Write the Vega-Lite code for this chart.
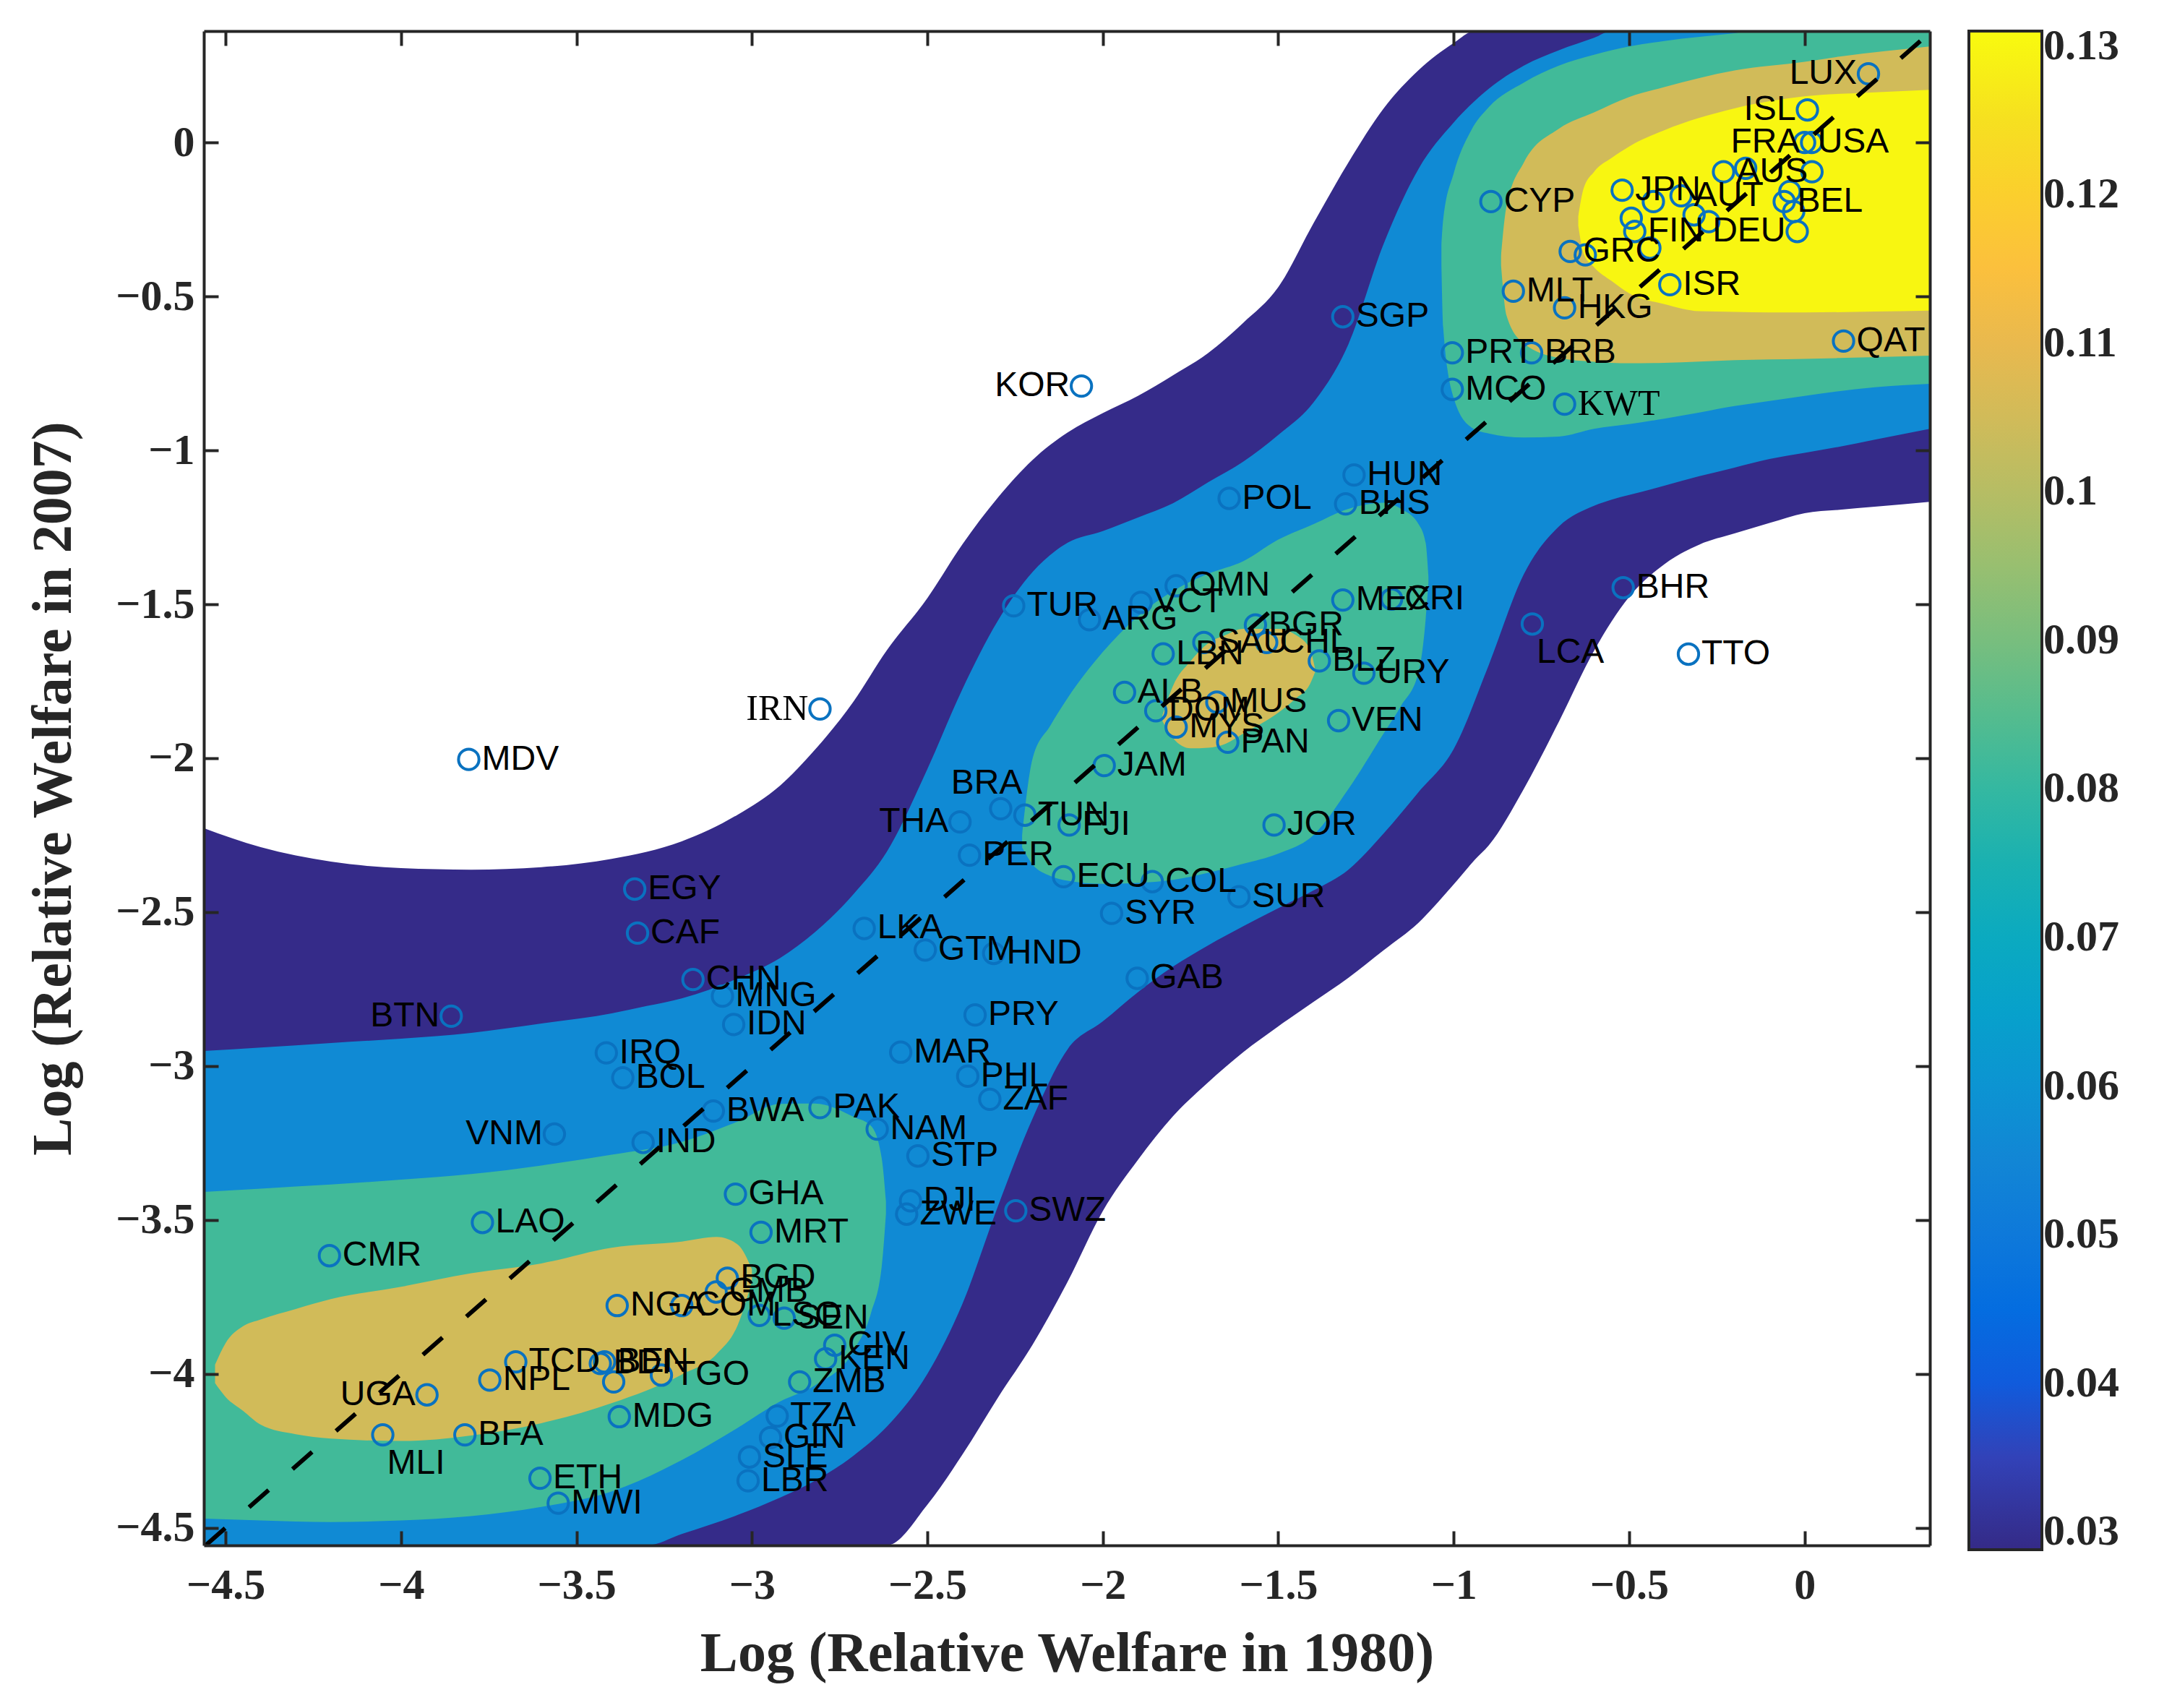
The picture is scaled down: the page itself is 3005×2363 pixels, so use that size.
{
  "$schema": "https://vega.github.io/schema/vega-lite/v6.json",
  "autosize": {"type": "none"},
  "padding": {"left": 282, "top": 43, "right": 335, "bottom": 225},
  "width": 2388,
  "height": 2095,
  "background": "white",
  "config": {
    "view": {"stroke": null},
    "legend": {
      "orient": "right", "offset": 52, "gradientLength": 2101, "gradientThickness": 101,
      "labelFont": "Liberation Serif", "labelFontSize": 60, "labelFontWeight": "bold", "labelColor": "#262626",
      "labelOffset": 26, "gradientStrokeColor": "#262626", "gradientStrokeWidth": 4, "labelOverlap": false, "padding": 0
    }
  },
  "datasets": {
    "diag": [{"x": -4.557, "y": -4.557}, {"x": 0.357, "y": 0.357}],
    "contours": [
      {"region": "P", "level": 0.029, "x": -4.562, "y": -4.557, "y2": -2.227},
      {"region": "P", "level": 0.029, "x": -4.4, "y": -4.557, "y2": -2.289},
      {"region": "P", "level": 0.029, "x": -4.2, "y": -4.557, "y2": -2.336},
      {"region": "P", "level": 0.029, "x": -4.0, "y": -4.557, "y2": -2.357},
      {"region": "P", "level": 0.029, "x": -3.8, "y": -4.557, "y2": -2.362},
      {"region": "P", "level": 0.029, "x": -3.6, "y": -4.557, "y2": -2.354},
      {"region": "P", "level": 0.029, "x": -3.4, "y": -4.557, "y2": -2.327},
      {"region": "P", "level": 0.029, "x": -3.2, "y": -4.557, "y2": -2.27},
      {"region": "P", "level": 0.029, "x": -3.04, "y": -4.557, "y2": -2.183},
      {"region": "P", "level": 0.029, "x": -2.92, "y": -4.557, "y2": -2.089},
      {"region": "P", "level": 0.029, "x": -2.82, "y": -4.557, "y2": -1.972},
      {"region": "P", "level": 0.029, "x": -2.71, "y": -4.557, "y2": -1.815},
      {"region": "P", "level": 0.029, "x": -2.616, "y": -4.557, "y2": -1.65},
      {"region": "P", "level": 0.029, "x": -2.5, "y": -4.425, "y2": -1.48},
      {"region": "P", "level": 0.029, "x": -2.4, "y": -4.262, "y2": -1.305},
      {"region": "P", "level": 0.029, "x": -2.3, "y": -4.079, "y2": -1.155},
      {"region": "P", "level": 0.029, "x": -2.2, "y": -3.905, "y2": -1.031},
      {"region": "P", "level": 0.029, "x": -2.1, "y": -3.7, "y2": -0.942},
      {"region": "P", "level": 0.029, "x": -2.0, "y": -3.471, "y2": -0.879},
      {"region": "P", "level": 0.029, "x": -1.9, "y": -3.305, "y2": -0.823},
      {"region": "P", "level": 0.029, "x": -1.8, "y": -3.163, "y2": -0.756},
      {"region": "P", "level": 0.029, "x": -1.7, "y": -3.053, "y2": -0.684},
      {"region": "P", "level": 0.029, "x": -1.6, "y": -2.955, "y2": -0.586},
      {"region": "P", "level": 0.029, "x": -1.5, "y": -2.871, "y2": -0.47},
      {"region": "P", "level": 0.029, "x": -1.4, "y": -2.792, "y2": -0.263},
      {"region": "P", "level": 0.029, "x": -1.3, "y": -2.713, "y2": -0.065},
      {"region": "P", "level": 0.029, "x": -1.2, "y": -2.624, "y2": 0.11},
      {"region": "P", "level": 0.029, "x": -1.1, "y": -2.534, "y2": 0.235},
      {"region": "P", "level": 0.029, "x": -1.0, "y": -2.41, "y2": 0.323},
      {"region": "P", "level": 0.029, "x": -0.94, "y": -2.33, "y2": 0.362},
      {"region": "P", "level": 0.029, "x": -0.9, "y": -2.283, "y2": 0.362},
      {"region": "P", "level": 0.029, "x": -0.8, "y": -2.099, "y2": 0.362},
      {"region": "P", "level": 0.029, "x": -0.7, "y": -1.881, "y2": 0.362},
      {"region": "P", "level": 0.029, "x": -0.6, "y": -1.651, "y2": 0.362},
      {"region": "P", "level": 0.029, "x": -0.5, "y": -1.476, "y2": 0.362},
      {"region": "P", "level": 0.029, "x": -0.4, "y": -1.37, "y2": 0.362},
      {"region": "P", "level": 0.029, "x": -0.3, "y": -1.306, "y2": 0.362},
      {"region": "P", "level": 0.029, "x": -0.2, "y": -1.27, "y2": 0.362},
      {"region": "P", "level": 0.029, "x": -0.1, "y": -1.236, "y2": 0.362},
      {"region": "P", "level": 0.029, "x": 0.0, "y": -1.204, "y2": 0.362},
      {"region": "P", "level": 0.029, "x": 0.1, "y": -1.193, "y2": 0.362},
      {"region": "P", "level": 0.029, "x": 0.2, "y": -1.183, "y2": 0.362},
      {"region": "P", "level": 0.029, "x": 0.357, "y": -1.167, "y2": 0.362},

      {"region": "B", "level": 0.0565, "x": -4.562, "y": -4.557, "y2": -2.951},
      {"region": "B", "level": 0.0565, "x": -4.4, "y": -4.557, "y2": -2.94},
      {"region": "B", "level": 0.0565, "x": -4.2, "y": -4.557, "y2": -2.925},
      {"region": "B", "level": 0.0565, "x": -4.0, "y": -4.557, "y2": -2.911},
      {"region": "B", "level": 0.0565, "x": -3.8, "y": -4.557, "y2": -2.892},
      {"region": "B", "level": 0.0565, "x": -3.6, "y": -4.557, "y2": -2.862},
      {"region": "B", "level": 0.0565, "x": -3.4, "y": -4.557, "y2": -2.829},
      {"region": "B", "level": 0.0565, "x": -3.3, "y": -4.557, "y2": -2.805},
      {"region": "B", "level": 0.0565, "x": -3.2, "y": -4.52, "y2": -2.78},
      {"region": "B", "level": 0.0565, "x": -3.04, "y": -4.458, "y2": -2.715},
      {"region": "B", "level": 0.0565, "x": -2.92, "y": -4.402, "y2": -2.649},
      {"region": "B", "level": 0.0565, "x": -2.82, "y": -4.347, "y2": -2.565},
      {"region": "B", "level": 0.0565, "x": -2.71, "y": -4.265, "y2": -2.441},
      {"region": "B", "level": 0.0565, "x": -2.616, "y": -4.172, "y2": -2.305},
      {"region": "B", "level": 0.0565, "x": -2.5, "y": -4.0, "y2": -2.035},
      {"region": "B", "level": 0.0565, "x": -2.4, "y": -3.772, "y2": -1.775},
      {"region": "B", "level": 0.0565, "x": -2.3, "y": -3.459, "y2": -1.555},
      {"region": "B", "level": 0.0565, "x": -2.2, "y": -3.17, "y2": -1.395},
      {"region": "B", "level": 0.0565, "x": -2.1, "y": -2.945, "y2": -1.3},
      {"region": "B", "level": 0.0565, "x": -2.0, "y": -2.855, "y2": -1.262},
      {"region": "B", "level": 0.0565, "x": -1.9, "y": -2.76, "y2": -1.218},
      {"region": "B", "level": 0.0565, "x": -1.8, "y": -2.677, "y2": -1.172},
      {"region": "B", "level": 0.0565, "x": -1.7, "y": -2.608, "y2": -1.104},
      {"region": "B", "level": 0.0565, "x": -1.6, "y": -2.546, "y2": -1.037},
      {"region": "B", "level": 0.0565, "x": -1.5, "y": -2.487, "y2": -0.95},
      {"region": "B", "level": 0.0565, "x": -1.4, "y": -2.43, "y2": -0.845},
      {"region": "B", "level": 0.0565, "x": -1.3, "y": -2.362, "y2": -0.655},
      {"region": "B", "level": 0.0565, "x": -1.2, "y": -2.245, "y2": -0.33},
      {"region": "B", "level": 0.0565, "x": -1.1, "y": -2.11, "y2": -0.085},
      {"region": "B", "level": 0.0565, "x": -1.0, "y": -1.97, "y2": 0.065},
      {"region": "B", "level": 0.0565, "x": -0.9, "y": -1.697, "y2": 0.175},
      {"region": "B", "level": 0.0565, "x": -0.8, "y": -1.402, "y2": 0.25},
      {"region": "B", "level": 0.0565, "x": -0.7, "y": -1.247, "y2": 0.3},
      {"region": "B", "level": 0.0565, "x": -0.6, "y": -1.18, "y2": 0.34},
      {"region": "B", "level": 0.0565, "x": -0.55, "y": -1.16, "y2": 0.362},
      {"region": "B", "level": 0.0565, "x": -0.5, "y": -1.145, "y2": 0.362},
      {"region": "B", "level": 0.0565, "x": -0.4, "y": -1.115, "y2": 0.362},
      {"region": "B", "level": 0.0565, "x": -0.3, "y": -1.084, "y2": 0.362},
      {"region": "B", "level": 0.0565, "x": -0.2, "y": -1.056, "y2": 0.362},
      {"region": "B", "level": 0.0565, "x": -0.1, "y": -1.028, "y2": 0.362},
      {"region": "B", "level": 0.0565, "x": 0.0, "y": -1.008, "y2": 0.362},
      {"region": "B", "level": 0.0565, "x": 0.1, "y": -0.988, "y2": 0.362},
      {"region": "B", "level": 0.0565, "x": 0.2, "y": -0.965, "y2": 0.362},
      {"region": "B", "level": 0.0565, "x": 0.357, "y": -0.93, "y2": 0.362},

      {"region": "G1", "level": 0.082, "x": -4.562, "y": -4.47, "y2": -3.409},
      {"region": "G1", "level": 0.082, "x": -4.4, "y": -4.476, "y2": -3.398},
      {"region": "G1", "level": 0.082, "x": -4.2, "y": -4.481, "y2": -3.385},
      {"region": "G1", "level": 0.082, "x": -4.0, "y": -4.476, "y2": -3.369},
      {"region": "G1", "level": 0.082, "x": -3.8, "y": -4.462, "y2": -3.351},
      {"region": "G1", "level": 0.082, "x": -3.6, "y": -4.432, "y2": -3.323},
      {"region": "G1", "level": 0.082, "x": -3.4, "y": -4.382, "y2": -3.288},
      {"region": "G1", "level": 0.082, "x": -3.2, "y": -4.28, "y2": -3.246},
      {"region": "G1", "level": 0.082, "x": -3.04, "y": -4.175, "y2": -3.18},
      {"region": "G1", "level": 0.082, "x": -2.92, "y": -4.09, "y2": -3.123},
      {"region": "G1", "level": 0.082, "x": -2.82, "y": -4.037, "y2": -3.122},
      {"region": "G1", "level": 0.082, "x": -2.71, "y": -3.925, "y2": -3.165},
      {"region": "G1", "level": 0.082, "x": -2.66, "y": -3.8, "y2": -3.195},
      {"region": "G1", "level": 0.082, "x": -2.63, "y": -3.65, "y2": -3.3},
      {"region": "G1", "level": 0.082, "x": -2.618, "y": -3.48, "y2": -3.44},

      {"region": "G2", "level": 0.082, "x": -2.23, "y": -2.29, "y2": -2.25},
      {"region": "G2", "level": 0.082, "x": -2.2, "y": -2.345, "y2": -2.0},
      {"region": "G2", "level": 0.082, "x": -2.15, "y": -2.382, "y2": -1.895},
      {"region": "G2", "level": 0.082, "x": -2.1, "y": -2.398, "y2": -1.804},
      {"region": "G2", "level": 0.082, "x": -2.0, "y": -2.408, "y2": -1.655},
      {"region": "G2", "level": 0.082, "x": -1.9, "y": -2.405, "y2": -1.539},
      {"region": "G2", "level": 0.082, "x": -1.8, "y": -2.395, "y2": -1.457},
      {"region": "G2", "level": 0.082, "x": -1.7, "y": -2.372, "y2": -1.401},
      {"region": "G2", "level": 0.082, "x": -1.6, "y": -2.343, "y2": -1.36},
      {"region": "G2", "level": 0.082, "x": -1.5, "y": -2.31, "y2": -1.29},
      {"region": "G2", "level": 0.082, "x": -1.4, "y": -2.25, "y2": -1.24},
      {"region": "G2", "level": 0.082, "x": -1.3, "y": -2.1, "y2": -1.19},
      {"region": "G2", "level": 0.082, "x": -1.2, "y": -1.92, "y2": -1.17},
      {"region": "G2", "level": 0.082, "x": -1.15, "y": -1.83, "y2": -1.19},
      {"region": "G2", "level": 0.082, "x": -1.1, "y": -1.72, "y2": -1.24},
      {"region": "G2", "level": 0.082, "x": -1.08, "y": -1.55, "y2": -1.3},
      {"region": "G2", "level": 0.082, "x": -1.072, "y": -1.43, "y2": -1.41},

      {"region": "G3", "level": 0.082, "x": -1.035, "y": -0.4, "y2": -0.33},
      {"region": "G3", "level": 0.082, "x": -1.03, "y": -0.6, "y2": -0.25},
      {"region": "G3", "level": 0.082, "x": -1.0, "y": -0.83, "y2": -0.1},
      {"region": "G3", "level": 0.082, "x": -0.95, "y": -0.925, "y2": 0.04},
      {"region": "G3", "level": 0.082, "x": -0.9, "y": -0.945, "y2": 0.115},
      {"region": "G3", "level": 0.082, "x": -0.8, "y": -0.958, "y2": 0.195},
      {"region": "G3", "level": 0.082, "x": -0.7, "y": -0.955, "y2": 0.25},
      {"region": "G3", "level": 0.082, "x": -0.6, "y": -0.93, "y2": 0.285},
      {"region": "G3", "level": 0.082, "x": -0.5, "y": -0.915, "y2": 0.312},
      {"region": "G3", "level": 0.082, "x": -0.4, "y": -0.897, "y2": 0.33},
      {"region": "G3", "level": 0.082, "x": -0.3, "y": -0.877, "y2": 0.343},
      {"region": "G3", "level": 0.082, "x": -0.2, "y": -0.856, "y2": 0.355},
      {"region": "G3", "level": 0.082, "x": -0.15, "y": -0.848, "y2": 0.362},
      {"region": "G3", "level": 0.082, "x": 0.0, "y": -0.823, "y2": 0.362},
      {"region": "G3", "level": 0.082, "x": 0.2, "y": -0.795, "y2": 0.362},
      {"region": "G3", "level": 0.082, "x": 0.357, "y": -0.784, "y2": 0.362},

      {"region": "T1", "level": 0.105, "x": -4.53, "y": -4.03, "y2": -3.97},
      {"region": "T1", "level": 0.105, "x": -4.5, "y": -4.075, "y2": -3.9},
      {"region": "T1", "level": 0.105, "x": -4.45, "y": -4.12, "y2": -3.845},
      {"region": "T1", "level": 0.105, "x": -4.4, "y": -4.165, "y2": -3.823},
      {"region": "T1", "level": 0.105, "x": -4.3, "y": -4.196, "y2": -3.789},
      {"region": "T1", "level": 0.105, "x": -4.2, "y": -4.21, "y2": -3.757},
      {"region": "T1", "level": 0.105, "x": -4.0, "y": -4.218, "y2": -3.717},
      {"region": "T1", "level": 0.105, "x": -3.8, "y": -4.2, "y2": -3.673},
      {"region": "T1", "level": 0.105, "x": -3.6, "y": -4.16, "y2": -3.641},
      {"region": "T1", "level": 0.105, "x": -3.4, "y": -4.095, "y2": -3.59},
      {"region": "T1", "level": 0.105, "x": -3.2, "y": -4.002, "y2": -3.57},
      {"region": "T1", "level": 0.105, "x": -3.1, "y": -3.935, "y2": -3.555},
      {"region": "T1", "level": 0.105, "x": -3.04, "y": -3.84, "y2": -3.58},
      {"region": "T1", "level": 0.105, "x": -3.0, "y": -3.7, "y2": -3.66},

      {"region": "T2", "level": 0.105, "x": -1.83, "y": -1.88, "y2": -1.86},
      {"region": "T2", "level": 0.105, "x": -1.8, "y": -1.935, "y2": -1.765},
      {"region": "T2", "level": 0.105, "x": -1.75, "y": -1.968, "y2": -1.685},
      {"region": "T2", "level": 0.105, "x": -1.7, "y": -1.966, "y2": -1.627},
      {"region": "T2", "level": 0.105, "x": -1.65, "y": -1.953, "y2": -1.6},
      {"region": "T2", "level": 0.105, "x": -1.6, "y": -1.92, "y2": -1.58},
      {"region": "T2", "level": 0.105, "x": -1.5, "y": -1.852, "y2": -1.58},
      {"region": "T2", "level": 0.105, "x": -1.45, "y": -1.806, "y2": -1.6},
      {"region": "T2", "level": 0.105, "x": -1.41, "y": -1.76, "y2": -1.645},
      {"region": "T2", "level": 0.105, "x": -1.395, "y": -1.72, "y2": -1.71},

      {"region": "T3", "level": 0.105, "x": -0.865, "y": -0.4, "y2": -0.37},
      {"region": "T3", "level": 0.105, "x": -0.85, "y": -0.56, "y2": -0.21},
      {"region": "T3", "level": 0.105, "x": -0.8, "y": -0.653, "y2": -0.065},
      {"region": "T3", "level": 0.105, "x": -0.7, "y": -0.7, "y2": 0.045},
      {"region": "T3", "level": 0.105, "x": -0.6, "y": -0.712, "y2": 0.098},
      {"region": "T3", "level": 0.105, "x": -0.5, "y": -0.717, "y2": 0.148},
      {"region": "T3", "level": 0.105, "x": -0.4, "y": -0.716, "y2": 0.18},
      {"region": "T3", "level": 0.105, "x": -0.2, "y": -0.707, "y2": 0.234},
      {"region": "T3", "level": 0.105, "x": 0.0, "y": -0.703, "y2": 0.262},
      {"region": "T3", "level": 0.105, "x": 0.1, "y": -0.7, "y2": 0.279},
      {"region": "T3", "level": 0.105, "x": 0.357, "y": -0.692, "y2": 0.312},

      {"region": "Y", "level": 0.13, "x": -0.645, "y": -0.27, "y2": -0.24},
      {"region": "Y", "level": 0.13, "x": -0.63, "y": -0.36, "y2": -0.15},
      {"region": "Y", "level": 0.13, "x": -0.6, "y": -0.405, "y2": -0.095},
      {"region": "Y", "level": 0.13, "x": -0.55, "y": -0.45, "y2": -0.05},
      {"region": "Y", "level": 0.13, "x": -0.5, "y": -0.49, "y2": -0.013},
      {"region": "Y", "level": 0.13, "x": -0.4, "y": -0.525, "y2": 0.04},
      {"region": "Y", "level": 0.13, "x": -0.3, "y": -0.548, "y2": 0.08},
      {"region": "Y", "level": 0.13, "x": -0.2, "y": -0.55, "y2": 0.111},
      {"region": "Y", "level": 0.13, "x": -0.1, "y": -0.552, "y2": 0.134},
      {"region": "Y", "level": 0.13, "x": 0.0, "y": -0.552, "y2": 0.15},
      {"region": "Y", "level": 0.13, "x": 0.2, "y": -0.549, "y2": 0.163},
      {"region": "Y", "level": 0.13, "x": 0.357, "y": -0.546, "y2": 0.171}
    ],
    "countries": [
      {"code": "LUX", "x": 0.182, "y": 0.223},
      {"code": "ISL", "x": 0.008, "y": 0.106},
      {"code": "USA", "x": 0.0, "y": 0.0},
      {"code": "FRA", "x": 0.02, "y": 0.0},
      {"code": "AUS", "x": -0.231, "y": -0.095},
      {"code": "JPN", "x": -0.52, "y": -0.155},
      {"code": "AUT", "x": -0.352, "y": -0.173},
      {"code": "BEL", "x": -0.058, "y": -0.192},
      {"code": "FIN", "x": -0.484, "y": -0.289},
      {"code": "DEU", "x": -0.021, "y": -0.289},
      {"code": "GRC", "x": -0.668, "y": -0.354},
      {"code": "ISR", "x": -0.384, "y": -0.462},
      {"code": "MLT", "x": -0.83, "y": -0.483},
      {"code": "HKG", "x": -0.684, "y": -0.537},
      {"code": "CYP", "x": -0.894, "y": -0.192},
      {"code": "SGP", "x": -1.316, "y": -0.566},
      {"code": "PRT", "x": -1.004, "y": -0.683},
      {"code": "BRB", "x": -0.778, "y": -0.683},
      {"code": "MCO", "x": -1.004, "y": -0.802},
      {"code": "KWT", "x": -0.684, "y": -0.85},
      {"code": "QAT", "x": 0.111, "y": -0.645},
      {"code": "HUN", "x": -1.284, "y": -1.08},
      {"code": "BHS", "x": -1.308, "y": -1.174},
      {"code": "POL", "x": -1.64, "y": -1.156},
      {"code": "KOR", "x": -2.061, "y": -0.791},
      {"code": "BHR", "x": -0.517, "y": -1.446},
      {"code": "LCA", "x": -0.776, "y": -1.564},
      {"code": "TTO", "x": -0.331, "y": -1.662},
      {"code": "MEX", "x": -1.316, "y": -1.486},
      {"code": "CRI", "x": -1.177, "y": -1.483},
      {"code": "BLZ", "x": -1.383, "y": -1.684},
      {"code": "URY", "x": -1.256, "y": -1.724},
      {"code": "VEN", "x": -1.328, "y": -1.878},
      {"code": "IRN", "x": -2.806, "y": -1.84},
      {"code": "TUR", "x": -2.254, "y": -1.505},
      {"code": "ARG", "x": -2.038, "y": -1.55},
      {"code": "VCT", "x": -1.891, "y": -1.494},
      {"code": "OMN", "x": -1.791, "y": -1.44},
      {"code": "BGR", "x": -1.565, "y": -1.567},
      {"code": "LBN", "x": -1.828, "y": -1.661},
      {"code": "SAU", "x": -1.712, "y": -1.624},
      {"code": "CHL", "x": -1.533, "y": -1.624},
      {"code": "ALB", "x": -1.938, "y": -1.786},
      {"code": "DOM", "x": -1.849, "y": -1.846},
      {"code": "MUS", "x": -1.675, "y": -1.818},
      {"code": "MYS", "x": -1.791, "y": -1.899},
      {"code": "PAN", "x": -1.644, "y": -1.948},
      {"code": "JAM", "x": -1.996, "y": -2.024},
      {"code": "BRA", "x": -2.291, "y": -2.164},
      {"code": "THA", "x": -2.407, "y": -2.207},
      {"code": "TUN", "x": -2.222, "y": -2.185},
      {"code": "FJI", "x": -2.096, "y": -2.217},
      {"code": "PER", "x": -2.38, "y": -2.315},
      {"code": "ECU", "x": -2.112, "y": -2.385},
      {"code": "COL", "x": -1.859, "y": -2.401},
      {"code": "SUR", "x": -1.612, "y": -2.45},
      {"code": "SYR", "x": -1.975, "y": -2.504},
      {"code": "JOR", "x": -1.512, "y": -2.217},
      {"code": "LKA", "x": -2.68, "y": -2.553},
      {"code": "GTM", "x": -2.506, "y": -2.623},
      {"code": "HND", "x": -2.311, "y": -2.634},
      {"code": "GAB", "x": -1.902, "y": -2.715},
      {"code": "PRY", "x": -2.364, "y": -2.834},
      {"code": "MAR", "x": -2.576, "y": -2.955},
      {"code": "PHL", "x": -2.385, "y": -3.033},
      {"code": "ZAF", "x": -2.322, "y": -3.108},
      {"code": "PAK", "x": -2.806, "y": -3.135},
      {"code": "NAM", "x": -2.643, "y": -3.205},
      {"code": "STP", "x": -2.527, "y": -3.292},
      {"code": "DJI", "x": -2.548, "y": -3.438},
      {"code": "ZWE", "x": -2.559, "y": -3.481},
      {"code": "SWZ", "x": -2.248, "y": -3.47},
      {"code": "MDV", "x": -3.807, "y": -2.004},
      {"code": "EGY", "x": -3.334, "y": -2.425},
      {"code": "CAF", "x": -3.326, "y": -2.568},
      {"code": "CHN", "x": -3.168, "y": -2.719},
      {"code": "MNG", "x": -3.084, "y": -2.773},
      {"code": "IDN", "x": -3.052, "y": -2.865},
      {"code": "BTN", "x": -3.857, "y": -2.838},
      {"code": "IRQ", "x": -3.415, "y": -2.957},
      {"code": "BOL", "x": -3.368, "y": -3.038},
      {"code": "BWA", "x": -3.11, "y": -3.146},
      {"code": "VNM", "x": -3.563, "y": -3.221},
      {"code": "IND", "x": -3.31, "y": -3.248},
      {"code": "GHA", "x": -3.047, "y": -3.416},
      {"code": "LAO", "x": -3.768, "y": -3.508},
      {"code": "MRT", "x": -2.974, "y": -3.54},
      {"code": "CMR", "x": -4.204, "y": -3.616},
      {"code": "BGD", "x": -3.07, "y": -3.689},
      {"code": "GMB", "x": -3.102, "y": -3.734},
      {"code": "NGA", "x": -3.384, "y": -3.778},
      {"code": "COM", "x": -3.2, "y": -3.778},
      {"code": "LSO", "x": -2.979, "y": -3.81},
      {"code": "SEN", "x": -2.908, "y": -3.819},
      {"code": "CIV", "x": -2.764, "y": -3.907},
      {"code": "KEN", "x": -2.79, "y": -3.951},
      {"code": "TCD", "x": -3.673, "y": -3.961},
      {"code": "NPL", "x": -3.747, "y": -4.02},
      {"code": "BEN", "x": -3.42, "y": -3.961},
      {"code": "BDI", "x": -3.432, "y": -3.966},
      {"code": "TGO", "x": -3.258, "y": -4.004},
      {"code": "NER", "x": -3.394, "y": -4.026},
      {"code": "ZMB", "x": -2.864, "y": -4.026},
      {"code": "UGA", "x": -3.926, "y": -4.068},
      {"code": "MLI", "x": -4.052, "y": -4.198},
      {"code": "BFA", "x": -3.818, "y": -4.198},
      {"code": "MDG", "x": -3.378, "y": -4.139},
      {"code": "TZA", "x": -2.928, "y": -4.137},
      {"code": "GIN", "x": -2.947, "y": -4.207},
      {"code": "SLE", "x": -3.007, "y": -4.27},
      {"code": "LBR", "x": -3.011, "y": -4.347},
      {"code": "ETH", "x": -3.604, "y": -4.339},
      {"code": "MWI", "x": -3.552, "y": -4.42},
      {"code": "CAN", "x": -0.168, "y": -0.084},
      {"code": "NLD", "x": 0.021, "y": -0.095},
      {"code": "SWE", "x": -0.042, "y": -0.159},
      {"code": "DNK", "x": -0.031, "y": -0.224},
      {"code": "GBR", "x": -0.431, "y": -0.192},
      {"code": "ESP", "x": -0.494, "y": -0.246},
      {"code": "ITA", "x": -0.315, "y": -0.235},
      {"code": "NOR", "x": -0.273, "y": -0.257},
      {"code": "IRL", "x": -0.625, "y": -0.365},
      {"code": "NZL", "x": -0.441, "y": -0.343}
    ]
  },
  "resolve": {"axis": {"x": "independent", "y": "independent"}},
  "layer": [
    {
      "data": {"name": "contours"},
      "transform": [{"filter": {"field": "region", "oneOf": ["P"]}}],
      "mark": {"type": "area", "interpolate": "monotone", "clip": true, "opacity": 1},
      "encoding": {
        "x": {"field": "x", "type": "quantitative", "scale": {"domain": [-4.562, 0.357], "nice": false, "zero": false}, "axis": null},
        "y": {"field": "y", "type": "quantitative", "scale": {"domain": [-4.557, 0.362], "nice": false, "zero": false}, "axis": null},
        "y2": {"field": "y2"},
        "detail": {"field": "region"},
        "color": {"field": "level", "type": "quantitative",
          "scale": {"type": "linear", "interpolate": "rgb",
            "domain": [0.0288, 0.0353, 0.0401, 0.045, 0.0531, 0.0597, 0.0661, 0.0726, 0.0791, 0.0856, 0.0921, 0.0986, 0.105, 0.1116, 0.1164, 0.1213, 0.1261, 0.131],
            "range": ["#352a87", "#3243ba", "#0f5cdd", "#046de0", "#1481d6", "#0c93d2", "#06a4ca", "#0faeb9", "#2eb7a4", "#59bd8c", "#87bf77", "#aebe67", "#d1bb59", "#f1b94a", "#ffc337", "#fad32a", "#f5e41d", "#f9fb0e"]},
          "legend": {"title": null, "type": "gradient", "direction": "vertical", "values": [0.03, 0.04, 0.05, 0.06, 0.07, 0.08, 0.09, 0.1, 0.11, 0.12, 0.13], "format": "~g"}}
      }
    },
    {
      "data": {"name": "contours"},
      "transform": [{"filter": {"field": "region", "oneOf": ["B"]}}],
      "mark": {"type": "area", "interpolate": "monotone", "clip": true, "opacity": 1},
      "encoding": {
        "x": {"field": "x", "type": "quantitative", "axis": null},
        "y": {"field": "y", "type": "quantitative", "axis": null},
        "y2": {"field": "y2"},
        "detail": {"field": "region"},
        "color": {"field": "level", "type": "quantitative", "legend": {"title": null, "type": "gradient", "direction": "vertical", "values": [0.03, 0.04, 0.05, 0.06, 0.07, 0.08, 0.09, 0.1, 0.11, 0.12, 0.13], "format": "~g"}}
      }
    },
    {
      "data": {"name": "contours"},
      "transform": [{"filter": {"field": "region", "oneOf": ["G1", "G2", "G3"]}}],
      "mark": {"type": "area", "interpolate": "monotone", "clip": true, "opacity": 1},
      "encoding": {
        "x": {"field": "x", "type": "quantitative", "axis": null},
        "y": {"field": "y", "type": "quantitative", "axis": null},
        "y2": {"field": "y2"},
        "detail": {"field": "region"},
        "color": {"field": "level", "type": "quantitative", "legend": {"title": null, "type": "gradient", "direction": "vertical", "values": [0.03, 0.04, 0.05, 0.06, 0.07, 0.08, 0.09, 0.1, 0.11, 0.12, 0.13], "format": "~g"}}
      }
    },
    {
      "data": {"name": "contours"},
      "transform": [{"filter": {"field": "region", "oneOf": ["T1", "T2", "T3"]}}],
      "mark": {"type": "area", "interpolate": "monotone", "clip": true, "opacity": 1},
      "encoding": {
        "x": {"field": "x", "type": "quantitative", "axis": null},
        "y": {"field": "y", "type": "quantitative", "axis": null},
        "y2": {"field": "y2"},
        "detail": {"field": "region"},
        "color": {"field": "level", "type": "quantitative", "legend": {"title": null, "type": "gradient", "direction": "vertical", "values": [0.03, 0.04, 0.05, 0.06, 0.07, 0.08, 0.09, 0.1, 0.11, 0.12, 0.13], "format": "~g"}}
      }
    },
    {
      "data": {"name": "contours"},
      "transform": [{"filter": {"field": "region", "oneOf": ["Y"]}}],
      "mark": {"type": "area", "interpolate": "monotone", "clip": true, "opacity": 1},
      "encoding": {
        "x": {"field": "x", "type": "quantitative", "axis": null},
        "y": {"field": "y", "type": "quantitative", "axis": null},
        "y2": {"field": "y2"},
        "detail": {"field": "region"},
        "color": {"field": "level", "type": "quantitative", "legend": {"title": null, "type": "gradient", "direction": "vertical", "values": [0.03, 0.04, 0.05, 0.06, 0.07, 0.08, 0.09, 0.1, 0.11, 0.12, 0.13], "format": "~g"}}
      }
    },
    {
      "data": {"name": "countries"},
      "mark": {"type": "point", "shape": "circle", "filled": false, "size": 800, "strokeWidth": 4, "color": "#0a72c0", "opacity": 1},
      "encoding": {
        "x": {"field": "x", "type": "quantitative",
          "axis": {"orient": "bottom", "values": [-4.5, -4, -3.5, -3, -2.5, -2, -1.5, -1, -0.5, 0], "format": "~g", "grid": false, "zindex": 3,
            "domainColor": "#262626", "domainWidth": 4, "tickColor": "#262626", "tickWidth": 4, "tickSize": -20,
            "labelFont": "Liberation Serif", "labelFontWeight": "bold", "labelFontSize": 60, "labelColor": "#262626", "labelPadding": 46, "labelFlush": false, "labelOverlap": false,
            "title": "Log (Relative Welfare in 1980)", "titleFont": "Liberation Serif", "titleFontWeight": "bold", "titleFontSize": 78, "titleColor": "#262626", "titlePadding": 26}},
        "y": {"field": "y", "type": "quantitative",
          "axis": {"orient": "left", "values": [0, -0.5, -1, -1.5, -2, -2.5, -3, -3.5, -4, -4.5], "format": "~g", "grid": false, "zindex": 3,
            "domainColor": "#262626", "domainWidth": 4, "tickColor": "#262626", "tickWidth": 4, "tickSize": -20,
            "labelFont": "Liberation Serif", "labelFontWeight": "bold", "labelFontSize": 60, "labelColor": "#262626", "labelPadding": 33, "labelFlush": false, "labelOverlap": false,
            "title": "Log (Relative Welfare in 2007)", "titleFont": "Liberation Serif", "titleFontWeight": "bold", "titleFontSize": 78, "titleColor": "#262626", "titlePadding": 46}}
      }
    },
    {
      "data": {"name": "countries"},
      "transform": [{"filter": {"not": {"field": "code", "oneOf": ["LUX", "ISL", "FRA", "DEU", "KOR", "BTN", "VNM", "UGA", "THA", "IRN", "KWT", "BRA", "MLI", "LCA", "CAN", "NLD", "SWE", "DNK", "GBR", "ESP", "ITA", "NOR", "IRL", "NZL", "NER"]}}}],
      "mark": {"type": "text", "font": "Liberation Sans", "fontSize": 48, "color": "#000000", "baseline": "middle", "align": "left", "dx": 18},
      "encoding": {
        "x": {"field": "x", "type": "quantitative", "axis": null},
        "y": {"field": "y", "type": "quantitative", "axis": null},
        "text": {"field": "code"}
      }
    },
    {
      "data": {"name": "countries"},
      "transform": [{"filter": {"field": "code", "oneOf": ["LUX", "ISL", "FRA", "DEU", "KOR", "BTN", "VNM", "UGA", "THA"]}}],
      "mark": {"type": "text", "font": "Liberation Sans", "fontSize": 48, "color": "#000000", "baseline": "middle", "align": "right", "dx": -16},
      "encoding": {
        "x": {"field": "x", "type": "quantitative", "axis": null},
        "y": {"field": "y", "type": "quantitative", "axis": null},
        "text": {"field": "code"}
      }
    },
    {
      "data": {"name": "countries"},
      "transform": [{"filter": {"field": "code", "oneOf": ["IRN"]}}],
      "mark": {"type": "text", "font": "Liberation Serif", "fontSize": 50, "color": "#000000", "baseline": "middle", "align": "right", "dx": -16},
      "encoding": {
        "x": {"field": "x", "type": "quantitative", "axis": null},
        "y": {"field": "y", "type": "quantitative", "axis": null},
        "text": {"field": "code"}
      }
    },
    {
      "data": {"name": "countries"},
      "transform": [{"filter": {"field": "code", "oneOf": ["KWT"]}}],
      "mark": {"type": "text", "font": "Liberation Serif", "fontSize": 50, "color": "#000000", "baseline": "middle", "align": "left", "dx": 18},
      "encoding": {
        "x": {"field": "x", "type": "quantitative", "axis": null},
        "y": {"field": "y", "type": "quantitative", "axis": null},
        "text": {"field": "code"}
      }
    },
    {
      "data": {"name": "countries"},
      "transform": [{"filter": {"field": "code", "oneOf": ["BRA"]}}],
      "mark": {"type": "text", "font": "Liberation Sans", "fontSize": 48, "color": "#000000", "baseline": "middle", "align": "right", "dx": 30, "dy": -35},
      "encoding": {
        "x": {"field": "x", "type": "quantitative", "axis": null},
        "y": {"field": "y", "type": "quantitative", "axis": null},
        "text": {"field": "code"}
      }
    },
    {
      "data": {"name": "countries"},
      "transform": [{"filter": {"field": "code", "oneOf": ["MLI", "LCA"]}}],
      "mark": {"type": "text", "font": "Liberation Sans", "fontSize": 48, "color": "#000000", "baseline": "middle", "align": "left", "dx": 6, "dy": 40},
      "encoding": {
        "x": {"field": "x", "type": "quantitative", "axis": null},
        "y": {"field": "y", "type": "quantitative", "axis": null},
        "text": {"field": "code"}
      }
    },
    {
      "data": {"name": "diag"},
      "mark": {"type": "line", "color": "#000000", "strokeWidth": 6, "strokeDash": [36, 44], "clip": true},
      "encoding": {
        "x": {"field": "x", "type": "quantitative",
          "axis": {"orient": "top", "values": [-4.5, -4, -3.5, -3, -2.5, -2, -1.5, -1, -0.5, 0], "labels": false, "title": null, "grid": false, "zindex": 3,
            "domainColor": "#262626", "domainWidth": 4, "tickColor": "#262626", "tickWidth": 4, "tickSize": -20}},
        "y": {"field": "y", "type": "quantitative",
          "axis": {"orient": "right", "values": [0, -0.5, -1, -1.5, -2, -2.5, -3, -3.5, -4, -4.5], "labels": false, "title": null, "grid": false, "zindex": 3,
            "domainColor": "#262626", "domainWidth": 4, "tickColor": "#262626", "tickWidth": 4, "tickSize": -20}}
      }
    }
  ]
}
